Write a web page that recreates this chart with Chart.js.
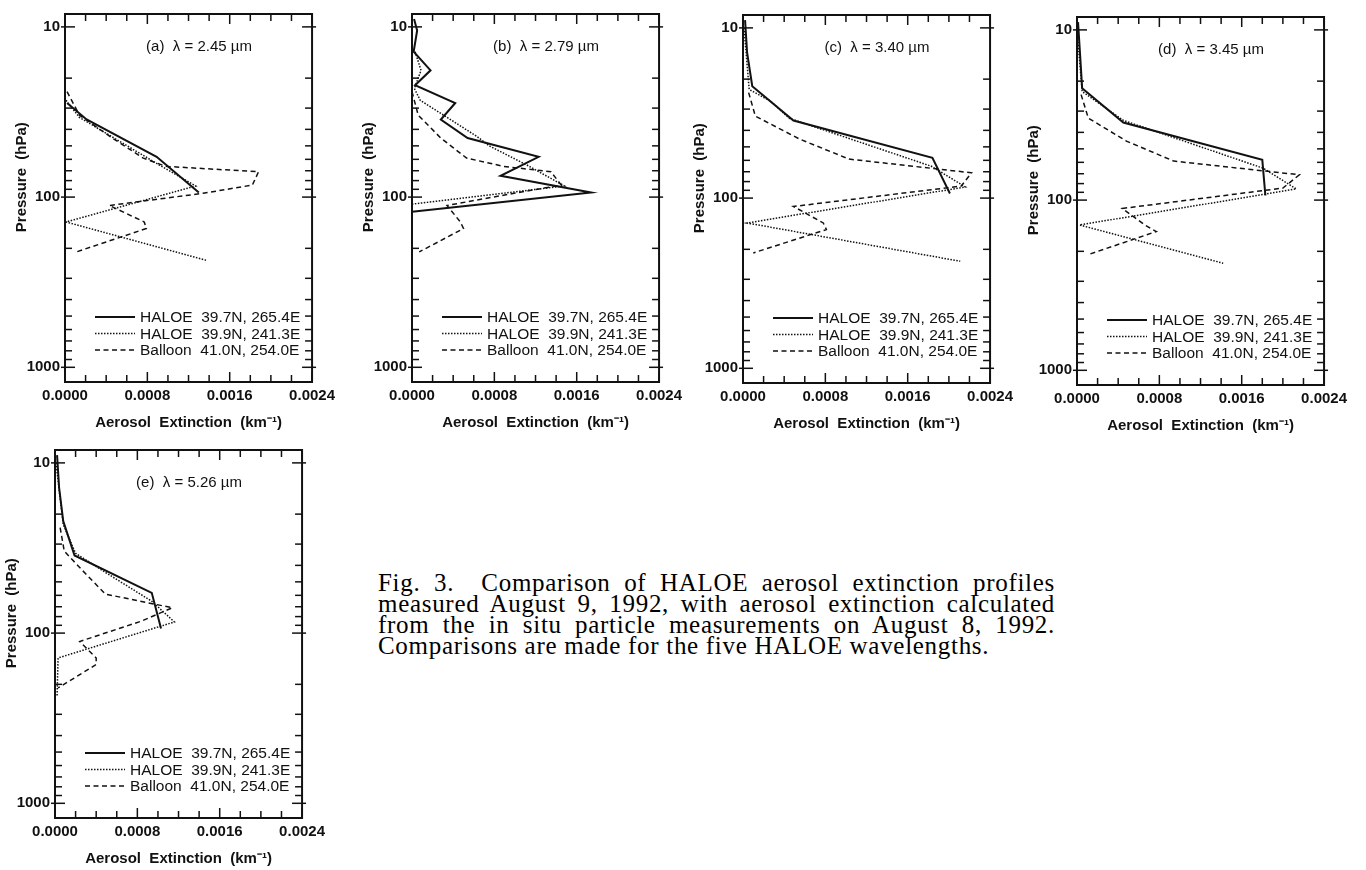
<!DOCTYPE html>
<html lang="en">
<head>
<meta charset="UTF-8">
<title>Fig. 3 - HALOE aerosol extinction profiles</title>
<script src="https://cdn.jsdelivr.net/npm/chart.js"></script>
<style>
  body { margin: 0; background: #fff; width: 1366px; height: 870px; position: relative; overflow: hidden; }
  canvas { position: absolute; }
  #caption { position: absolute; left: 378px; top: 572px; width: 677px; font: 25px "Liberation Serif", serif; line-height: 21px; letter-spacing: 0.7px; color: #000; }
  #caption div { text-align: justify; text-align-last: justify; white-space: nowrap; }
  #caption div.last { text-align-last: left; }
</style>
</head>
<body>
<canvas id="pa" width="340" height="440" style="left:0px;top:0px"></canvas>
<canvas id="pb" width="340" height="440" style="left:347px;top:0px"></canvas>
<canvas id="pc" width="340" height="440" style="left:678px;top:1px"></canvas>
<canvas id="pd" width="340" height="440" style="left:1012px;top:3px"></canvas>
<canvas id="pe" width="340" height="440" style="left:-10px;top:436px"></canvas>
<div id="caption">
  <div>Fig. 3.&nbsp; Comparison of HALOE aerosol extinction profiles</div>
  <div>measured August 9, 1992, with aerosol extinction calculated</div>
  <div>from the in situ particle measurements on August 8, 1992.</div>
  <div class="last">Comparisons are made for the five HALOE wavelengths.</div>
</div>
<script>
// pressure levels (hPa) of each profile
const haloe1P  = [9, 10.5, 14, 18, 22, 28, 35, 45, 58, 75, 94, 122];
const haloe2P  = [10, 14, 18, 23, 27, 34, 44, 50, 65, 86, 110, 140, 235];
const balloonP = [24, 33, 45, 59, 66, 71, 85, 95, 112, 140, 153, 210];

// extinction (km-1), one array per panel, null = no point at that level
const haloe1A = [null, null, null, null, null, 0.00002, 0.00021, null, 0.00089, null, 0.0013, null];
const haloe1B = [0.00002, 0.00005, 0.000016, 0.00018, 0.00003, 0.00042, 0.00028, 0.00054, 0.00123, 0.00086, 0.00174, 0.0];
const haloe1C = [0.00002, null, 0.00004, null, 0.00009, null, 0.00049, null, 0.00184, null, 0.00201, null];
const haloe1D = [0.00001, null, 0.00003, null, 0.00005, null, 0.00045, null, 0.0018, null, 0.00183, null];
const haloe1E = [0.00002, null, 0.00004, null, 0.00008, null, 0.00019, null, 0.00094, null, 0.00103, null];

const haloe2A = [null, null, null, null, 0.00001, 0.00014, null, null, 0.00092, 0.00127, null, 0.00001, 0.00137];
const haloe2B = [null, 0.00003, 0.000088, 0.000023, 0.00008, 0.00034, 0.00063, 0.00075, 0.00112, 0.00148, 0.0, null, null];
const haloe2C = [0.00001, null, null, 0.00006, 0.00027, 0.00045, null, null, 0.00183, 0.00216, null, 0.00004, 0.00211];
const haloe2D = [0.0, null, null, 0.00005, null, 0.00045, null, null, 0.00181, 0.00213, null, 0.000025, 0.00142];
const haloe2E = [0.00001, null, null, 0.00008, null, 0.0002, 0.00049, null, 0.00094, 0.00116, null, 0.00003, 0.00002];

const balloonA = [0.00002, 0.00014, 0.00046, 0.00076, 0.00098, 0.00188, 0.00182, 0.00134, 0.00043, 0.00077, 0.00079, 0.00011];
const balloonB = [0.0, 0.00006, 0.00028, 0.00053, 0.00089, 0.00135, 0.00145, 0.00099, 0.00034, 0.00047, 0.0005, 0.00007];
const balloonC = [0.000055, 0.00012, 0.00055, 0.00103, null, 0.00222, 0.00212, null, 0.00049, 0.00078, 0.00081, 0.0001];
const balloonD = [0.00004, 0.00011, 0.00048, 0.00094, null, 0.00216, 0.002, null, 0.00044, 0.00066, 0.00077, 0.0001];
const balloonE = [0.00005, 0.00009, 0.0003, 0.00049, null, 0.00114, 0.00084, null, 0.00024, 0.0004, 0.0004, 0.00003];

const panelTitles = ['(a)  λ = 2.45 µm', '(b)  λ = 2.79 µm', '(c)  λ = 3.40 µm', '(d)  λ = 3.45 µm', '(e)  λ = 5.26 µm'];
const seriesLabels = ['HALOE  39.7N, 265.4E', 'HALOE  39.9N, 241.3E', 'Balloon  41.0N, 254.0E'];
const yMajor = [10, 100, 1000];
const yMinor = [20, 30, 40, 50, 60, 70, 80, 90, 200, 300, 400, 500, 600, 700, 800, 900];

const ink = '#111';
const family = '"Liberation Sans", Arial, sans-serif';

function points(p, ext) {
  return p.map((v, i) => ({x: ext[i], y: v})).filter(d => d.x !== null);
}
function isMajorX(v) {
  const k = v / 0.0008;
  return Math.abs(k - Math.round(k)) < 1e-6;
}

// box, inward ticks, panel label and legend drawn inside the plot area
const frame = {
  id: 'frame',
  afterDraw(chart, args, o) {
    const {ctx, chartArea: a, scales: {x, y}} = chart;
    const seg = (x1, y1, x2, y2) => { ctx.beginPath(); ctx.moveTo(x1, y1); ctx.lineTo(x2, y2); ctx.stroke(); };
    ctx.save();
    ctx.strokeStyle = ink;
    ctx.lineWidth = 1.5;
    x.ticks.forEach(t => {
      const px = x.getPixelForValue(t.value);
      const len = isMajorX(t.value) ? 10 : 7;
      seg(px, a.bottom, px, a.bottom - len);
      seg(px, a.top, px, a.top + len);
    });
    yMinor.forEach(v => {
      const py = y.getPixelForValue(v);
      seg(a.left, py, a.left + 7, py);
      seg(a.right, py, a.right - 7, py);
    });
    yMajor.forEach(v => {
      const py = y.getPixelForValue(v);
      seg(a.left - 4, py, a.left + 10, py);
      seg(a.right + 4, py, a.right - 10, py);
    });
    ctx.lineWidth = 2;
    ctx.strokeRect(a.left, a.top, a.width, a.height);

    ctx.fillStyle = ink;
    ctx.font = '15px ' + family;
    ctx.textAlign = 'center';
    ctx.textBaseline = 'middle';
    ctx.fillText(o.title, a.left + 134, a.top + 33);

    ctx.font = '15.5px ' + family;
    chart.data.datasets.forEach((ds, i) => {
      const yy = a.top + 303 + i * 16.5;
      ctx.lineWidth = ds.borderWidth;
      ctx.setLineDash(ds.borderDash || []);
      seg(a.left + 30, yy, a.left + 70, yy);
      ctx.setLineDash([]);
      ctx.textAlign = 'left';
      ctx.fillText(ds.label, a.left + 75, yy + 1);
    });
    ctx.restore();
  }
};

function makePanel(id, title, s1, s2, s3) {
  new Chart(document.getElementById(id), {
    type: 'scatter',
    data: {
      datasets: [
        {label: seriesLabels[0], data: points(haloe1P, s1), showLine: true, borderColor: ink, borderWidth: 2, borderDash: [], pointRadius: 0},
        {label: seriesLabels[1], data: points(haloe2P, s2), showLine: true, borderColor: ink, borderWidth: 1.5, borderDash: [1.5, 1.5], pointRadius: 0},
        {label: seriesLabels[2], data: points(balloonP, s3), showLine: true, borderColor: ink, borderWidth: 1.5, borderDash: [5, 3.5], pointRadius: 0}
      ]
    },
    options: {
      responsive: false,
      animation: false,
      devicePixelRatio: 1,
      layout: {padding: {top: 12, right: 25, left: 0, bottom: 0}},
      plugins: {legend: {display: false}, tooltip: {enabled: false}, frame: {title: title}},
      scales: {
        x: {
          type: 'linear', min: 0, max: 0.0024,
          grid: {display: false, drawTicks: false},
          border: {display: false},
          ticks: {
            stepSize: 0.0002, autoSkip: false, maxRotation: 0, padding: 5, color: ink,
            font: {family: family, size: 15, weight: 'bold'},
            callback: v => isMajorX(v) ? v.toFixed(4) : ''
          },
          title: {display: true, text: 'Aerosol  Extinction  (km⁻¹)', color: ink,
                  font: {family: family, size: 15, weight: 'bold'}, padding: {top: 0, bottom: 8}},
          afterFit: s => { s.height = 58; }
        },
        y: {
          type: 'logarithmic', reverse: true, min: 8.4, max: 1220,
          grid: {display: false, drawTicks: false},
          border: {display: false},
          ticks: {
            autoSkip: false, padding: 5, color: ink,
            font: {family: family, size: 15, weight: 'bold'},
            callback: v => yMajor.some(m => Math.abs(v - m) < 1e-6) ? String(Math.round(v)) : ''
          },
          title: {display: true, text: '          Pressure  (hPa)', color: ink,
                  font: {family: family, size: 15, weight: 'bold'}, padding: {top: 13, bottom: 0}},
          afterFit: s => { s.width = 65; }
        }
      }
    },
    plugins: [frame]
  });
}

makePanel('pa', panelTitles[0], haloe1A, haloe2A, balloonA);
makePanel('pb', panelTitles[1], haloe1B, haloe2B, balloonB);
makePanel('pc', panelTitles[2], haloe1C, haloe2C, balloonC);
makePanel('pd', panelTitles[3], haloe1D, haloe2D, balloonD);
makePanel('pe', panelTitles[4], haloe1E, haloe2E, balloonE);
</script>
</body>
</html>
